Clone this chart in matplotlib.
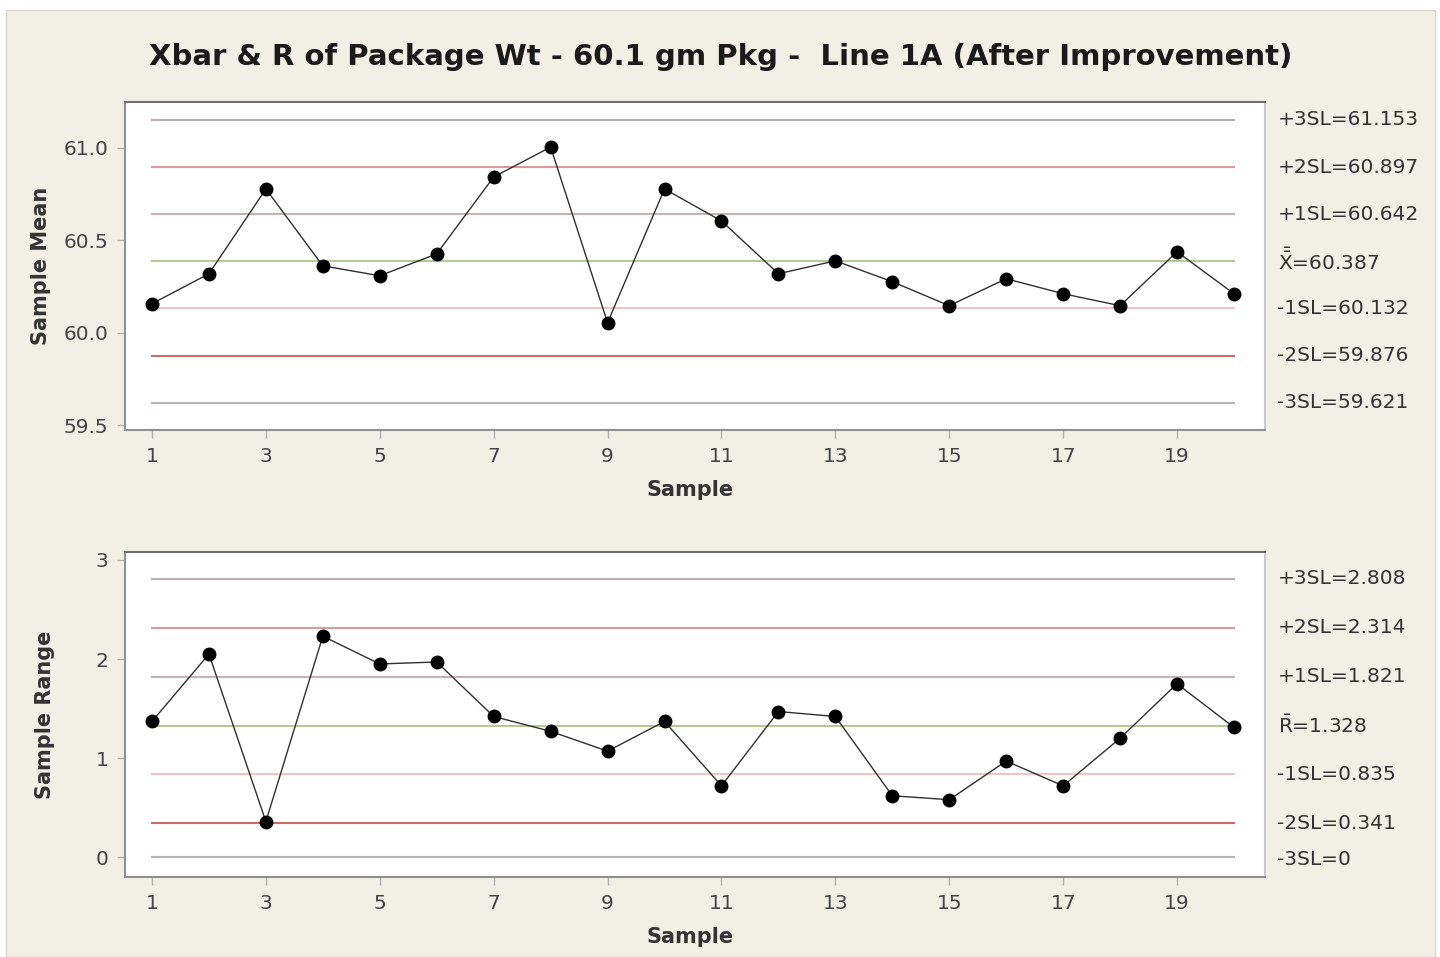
import matplotlib
matplotlib.use("Agg")
import matplotlib.pyplot as plt
from matplotlib.patches import Rectangle

samples = list(range(1, 21))
sample_means = [60.157, 60.319, 60.778, 60.362, 60.308, 60.427, 60.843, 61.005, 60.054, 60.778,
                60.605, 60.319, 60.389, 60.276, 60.146, 60.292, 60.211, 60.146, 60.438, 60.211]
sample_ranges = [1.37, 2.05, 0.36, 2.23, 1.95, 1.97, 1.42, 1.27, 1.07, 1.37,
                 0.72, 1.47, 1.42, 0.62, 0.58, 0.97, 0.72, 1.20, 1.75, 1.31]

mean_limits = [61.153, 60.897, 60.642, 60.387, 60.132, 59.876, 59.621]
mean_limit_labels = ["+3SL=61.153", "+2SL=60.897", "+1SL=60.642", r"$\bar{\bar{\mathrm{X}}}$=60.387",
                     "-1SL=60.132", "-2SL=59.876", "-3SL=59.621"]
range_limits = [2.808, 2.314, 1.821, 1.328, 0.835, 0.341, 0.0]
range_limit_labels = ["+3SL=2.808", "+2SL=2.314", "+1SL=1.821", r"$\bar{\mathrm{R}}$=1.328",
                      "-1SL=0.835", "-2SL=0.341", "-3SL=0"]
limit_colors = ["#bcaeae", "#d89a9a", "#c4b4b4", "#b4c89a", "#f0c4c4", "#cc6a6a", "#bcb4b4"]

xticks = [1, 3, 5, 7, 9, 11, 13, 15, 17, 19]
mean_yticks = [59.5, 60.0, 60.5, 61.0]
range_yticks = [0, 1, 2, 3]

title = "Xbar & R of Package Wt - 60.1 gm Pkg -  Line 1A (After Improvement)"

BG = "#f2f0e6"
W, H = 1440, 957
fig = plt.figure(figsize=(W / 100, H / 100), dpi=100)
fig.patch.set_facecolor("white")
fig.add_artist(Rectangle((6 / W, 0), (1435 - 6) / W, (H - 10) / H, transform=fig.transFigure,
                         facecolor=BG, edgecolor="#d8d6d0", linewidth=1.0, zorder=0))

fig.text(721 / W, 1 - 57 / H, title, ha="center", va="center", fontsize=21,
         fontweight="bold", color="#1a1a1a")


def make_axes(top, bottom):
    left, right = 125, 1265
    return fig.add_axes([left / W, 1 - bottom / H, (right - left) / W, (bottom - top) / H])


def style(ax, data, limits, labels, yticks, ylim, ylabel, fmt, height, ylab_off):
    ax.set_facecolor("white")
    for v, c in zip(limits, limit_colors):
        ax.plot([1, 20], [v, v], color=c, linewidth=1.5, zorder=1)
    ax.plot(samples, data, color="#303030", linewidth=1.0, marker="o", markersize=9,
            markerfacecolor="black", markeredgecolor="black", zorder=3)
    ax.set_xlim(0.526, 20.545)
    ax.set_ylim(*ylim)
    ax.set_xticks(xticks)
    ax.set_yticks(yticks)
    ax.set_yticklabels([fmt(t) for t in yticks])
    ax.tick_params(axis="both", direction="out", length=6, width=1, color="#b0b0b0",
                   labelsize=14.5, labelcolor="#444444", pad=6)
    ax.spines["top"].set_color("#707070")
    ax.spines["right"].set_color("#c8c8c8")
    for s in ["left", "bottom"]:
        ax.spines[s].set_color("#909090")
    for s in ax.spines.values():
        s.set_linewidth(1.5)
    ax.set_xlabel("Sample", fontsize=15, fontweight="bold", color="#333333")
    ax.xaxis.set_label_coords(0.496, -50 / height)
    ax.set_ylabel(ylabel, fontsize=15, fontweight="bold", color="#333333")
    ax.yaxis.set_label_coords(-ylab_off / 1140, 0.5)
    for v, lab in zip(limits, labels):
        ax.annotate(lab, xy=(1.0, v), xycoords=("axes fraction", "data"),
                    xytext=(9, 0), textcoords="offset points", ha="left", va="center",
                    fontsize=14.5, color="#333333", annotation_clip=False)


ax1 = make_axes(102, 430)
style(ax1, sample_means, mean_limits, mean_limit_labels, mean_yticks, (59.473, 61.249),
      "Sample Mean", lambda t: f"{t:.1f}", 328, 74)

ax2 = make_axes(552, 877)
style(ax2, sample_ranges, range_limits, range_limit_labels, range_yticks, (-0.2, 3.08),
      "Sample Range", lambda t: f"{t:d}", 325, 70)
ax2.texts[-1].set_position((9, -2))

fig.savefig("out.png", dpi=100, facecolor=fig.get_facecolor())
